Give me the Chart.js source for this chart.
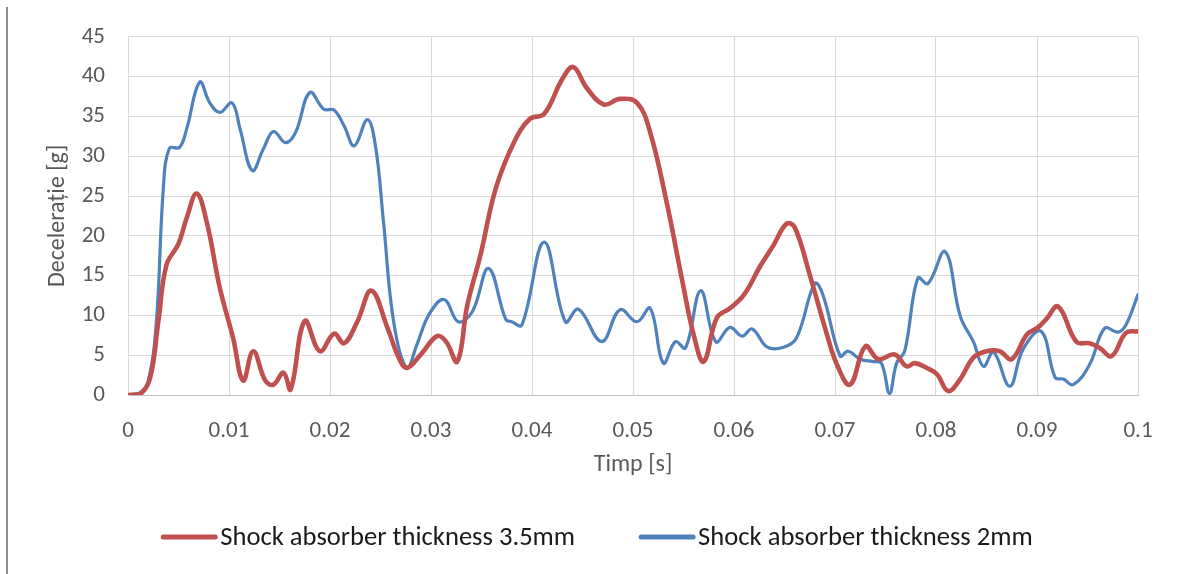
<!DOCTYPE html>
<html lang="ro">
<head>
    <meta charset="UTF-8">
    <title>Decelerație - Shock absorber</title>
    <script src="https://cdn.jsdelivr.net/npm/chart.js"></script>
    <style>
        html, body { margin: 0; padding: 0; background: #fff; }
        #wrap { position: relative; width: 1180px; height: 574px; }
        #edge { position: absolute; left: 6px; top: 7px; bottom: 0; width: 2px; background: #8c8c8c; }
    </style>
</head>
<body>
    <div id="wrap">
        <div id="edge"></div>
        <canvas id="decelChart" width="1180" height="574"></canvas>
    </div>

    <script>
        // Shock absorber 3.5mm
        const tRed = [0, 0.0012, 0.0022, 0.003, 0.0038, 0.005, 0.0058, 0.0068, 0.0078, 0.0091,
            0.0104, 0.0114, 0.0124, 0.0136, 0.0144, 0.0154, 0.0161, 0.0175, 0.019, 0.0204,
            0.0214, 0.0227, 0.0241, 0.0257, 0.0268, 0.0276, 0.029, 0.0306, 0.0315, 0.0326,
            0.0336, 0.0349, 0.0364, 0.0382, 0.0398, 0.0412, 0.043, 0.0441, 0.0454, 0.0471,
            0.0487, 0.0504, 0.0517, 0.0534, 0.0549, 0.056, 0.057, 0.0583, 0.0596, 0.061,
            0.0626, 0.0639, 0.0652, 0.066, 0.0675, 0.0692, 0.0702, 0.0715, 0.073, 0.0743,
            0.0759, 0.0771, 0.0779, 0.0791, 0.0801, 0.0812, 0.0824, 0.0837, 0.085, 0.0863,
            0.0875, 0.089, 0.0901, 0.0909, 0.0921, 0.0939, 0.0952, 0.0962, 0.0974, 0.0988, 0.1];
        const gRed = [0, 0.1, 2.2, 9.2, 16.3, 19, 22.2, 25.3, 21.7, 13.4,
            7.2, 1.8, 5.5, 1.8, 1.3, 2.8, 0.7, 9.3, 5.5, 7.7,
            6.5, 9.2, 13.1, 8.4, 4.7, 3.4, 5.1, 7.4, 6.7, 4.2,
            11.3, 17.6, 25.9, 31.7, 34.7, 35.3, 39.7, 41.2, 38.6, 36.5,
            37.2, 36.7, 33, 23.8, 14.2, 7.6, 4.2, 9.7, 10.9, 12.6,
            16.2, 18.8, 21.5, 21.1, 15.1, 7.6, 3.8, 1.3, 6.1, 4.5,
            5.1, 3.6, 4, 3.4, 2.6, 0.5, 2, 4.7, 5.5, 5.5,
            4.5, 7.6, 8.5, 9.5, 11.1, 6.7, 6.5, 5.9, 4.9, 7.8, 8];

        // Shock absorber 2mm
        const tBlue = [0, 0.0012, 0.002, 0.0028, 0.0035, 0.0041, 0.0051, 0.0058, 0.0071, 0.0081,
            0.0091, 0.0103, 0.0111, 0.0123, 0.0134, 0.0144, 0.0156, 0.0166, 0.018, 0.0194,
            0.0204, 0.0214, 0.0224, 0.0237, 0.0245, 0.0253, 0.0263, 0.0276, 0.0286, 0.0298,
            0.0313, 0.0327, 0.0341, 0.0357, 0.0374, 0.038, 0.039, 0.0412, 0.0433, 0.0446,
            0.0469, 0.0487, 0.0504, 0.0517, 0.053, 0.0542, 0.0552, 0.0567, 0.0582, 0.0596,
            0.0608, 0.0618, 0.0633, 0.0649, 0.0662, 0.068, 0.0688, 0.0705, 0.0713, 0.0725,
            0.0738, 0.0746, 0.0754, 0.0761, 0.0769, 0.0782, 0.0792, 0.0809, 0.0824, 0.0837,
            0.0847, 0.0857, 0.0873, 0.0886, 0.0904, 0.0918, 0.0926, 0.0936, 0.0952, 0.0967,
            0.098, 0.0988, 0.1];
        const gBlue = [0, 0.3, 1.7, 9, 26, 31, 31.1, 33.4, 39.3, 36.7,
            35.5, 36.7, 33.4, 28.2, 30.9, 33.1, 31.7, 33, 38, 35.9,
            35.8, 33.8, 31.3, 34.6, 31.3, 21.7, 9.2, 3.4, 6.3, 10.1,
            12, 9.2, 10.5, 15.9, 9.5, 9.2, 8.8, 19.2, 9.2, 10.8,
            6.7, 10.7, 9.2, 10.9, 4, 6.7, 5.9, 13.1, 6.7, 8.5,
            7.4, 8.3, 6, 6, 7.2, 14, 12.6, 4.9, 5.5, 4.5,
            4.2, 4, 0.2, 4, 5.5, 14.7, 14, 18, 9.9, 6.7,
            3.6, 5.4, 1.1, 5.7, 8, 2.2, 2, 1.3, 3.8, 8.4,
            7.9, 8.8, 12.6];

        const seriesNames = ['Shock absorber thickness 3.5mm', 'Shock absorber thickness 2mm'];
        const xTitle = 'Timp [s]';
        const yTitle = 'Decelerație [g]';

        const toPoints = (ts, gs) => ts.map((t, i) => ({ x: t, y: gs[i] }));

        const fontFamily = "Carlito, 'Open Sans', sans-serif";
        const textGray = '#595959';
        const gridGray = '#d9d9d9';

        // legend drawn below the axis title: short line + label, items centred
        const lineLegend = {
            id: 'lineLegend',
            afterDraw(chart, args, opts) {
                const c = chart.ctx;
                const sets = chart.data.datasets;
                c.save();
                c.font = opts.fontSize + 'px ' + fontFamily;
                c.textBaseline = 'middle';
                const widths = sets.map(ds => opts.lineLen + opts.gap + c.measureText(ds.label).width);
                const total = widths.reduce((a, b) => a + b, 0) + opts.spacing * (sets.length - 1);
                let x = opts.centerX - total / 2;
                sets.forEach((ds, i) => {
                    c.strokeStyle = ds.borderColor;
                    c.lineWidth = opts.lineWidth;
                    c.lineCap = 'round';
                    c.beginPath();
                    c.moveTo(x, opts.y);
                    c.lineTo(x + opts.lineLen, opts.y);
                    c.stroke();
                    c.fillStyle = opts.color;
                    c.fillText(ds.label, x + opts.lineLen + opts.gap, opts.y + 1);
                    x += widths[i] + opts.spacing;
                });
                c.restore();
            }
        };

        const ctx = document.getElementById('decelChart').getContext('2d');
        new Chart(ctx, {
            type: 'line',
            data: {
                datasets: [{
                    label: seriesNames[0],
                    data: toPoints(tRed, gRed),
                    borderColor: '#c0504d',
                    backgroundColor: '#c0504d',
                    borderWidth: 4.6,
                    pointRadius: 0,
                    tension: 0.4,
                    borderCapStyle: 'round',
                    borderJoinStyle: 'round'
                }, {
                    label: seriesNames[1],
                    data: toPoints(tBlue, gBlue),
                    borderColor: '#4f81bd',
                    backgroundColor: '#4f81bd',
                    borderWidth: 3.2,
                    pointRadius: 0,
                    tension: 0.4,
                    borderCapStyle: 'round',
                    borderJoinStyle: 'round'
                }]
            },
            plugins: [lineLegend],
            options: {
                responsive: false,
                animation: false,
                layout: { padding: { top: 30, right: 42, bottom: 90, left: 0 } },
                scales: {
                    x: {
                        type: 'linear',
                        min: 0,
                        max: 0.1,
                        ticks: {
                            stepSize: 0.01,
                            color: textGray,
                            font: { family: fontFamily, size: 23 },
                            padding: 22,
                            maxRotation: 0,
                            callback: v => Number(v.toFixed(2)).toString()
                        },
                        grid: { color: gridGray, drawTicks: false },
                        border: { color: '#bfbfbf' },
                        title: {
                            display: true,
                            text: xTitle,
                            color: textGray,
                            font: { family: fontFamily, size: 24 },
                            padding: { top: 0, bottom: 5 }
                        },
                        afterFit: s => { s.height = 89; }
                    },
                    y: {
                        min: 0,
                        max: 45,
                        ticks: {
                            stepSize: 5,
                            color: textGray,
                            font: { family: fontFamily, size: 23 },
                            padding: 23
                        },
                        grid: { color: gridGray, drawTicks: false },
                        border: { color: gridGray },
                        title: {
                            display: true,
                            text: yTitle,
                            color: textGray,
                            font: { family: fontFamily, size: 24 },
                            padding: { top: 44, bottom: 0 }
                        },
                        afterFit: s => { s.width = 128; }
                    }
                },
                plugins: {
                    legend: { display: false },
                    tooltip: { enabled: false },
                    lineLegend: {
                        y: 537,
                        centerX: 598,
                        fontSize: 26.6,
                        lineLen: 52,
                        lineWidth: 5,
                        gap: 5,
                        spacing: 66,
                        color: '#1a1a1a'
                    }
                }
            }
        });
    </script>
</body>
</html>
